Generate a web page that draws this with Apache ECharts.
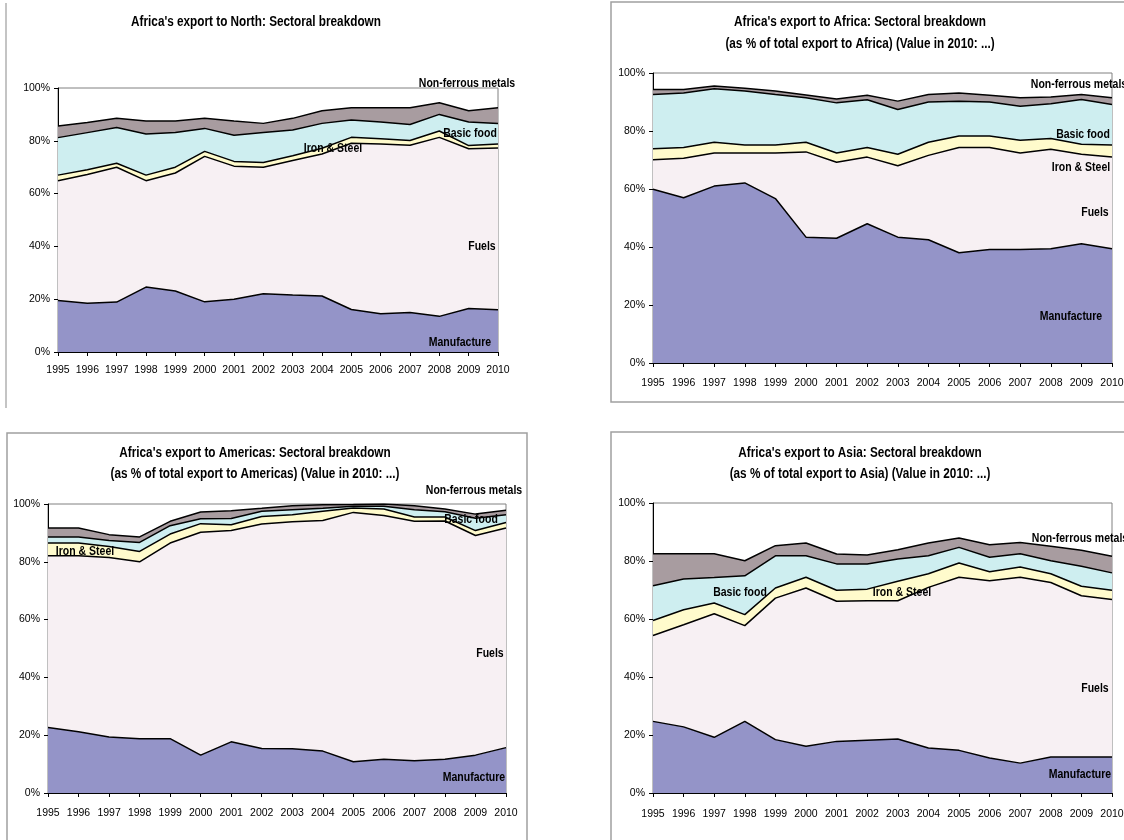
<!DOCTYPE html>
<html>
<head>
<meta charset="utf-8">
<title>Africa's export: Sectoral breakdown</title>
<script src="https://cdn.jsdelivr.net/npm/echarts@6/dist/echarts.min.js"></script>
<style>
html, body { margin: 0; padding: 0; background: #fff; }
#main { width: 1124px; height: 840px; }
</style>
</head>
<body>
<div id="main"></div>
<script>
const years = ['1995', '1996', '1997', '1998', '1999', '2000', '2001', '2002',
  '2003', '2004', '2005', '2006', '2007', '2008', '2009', '2010']
const sectors = ['Manufacture', 'Fuels', 'Iron & Steel', 'Basic food', 'Non-ferrous metals']
const yTicks = [0, 20, 40, 60, 80, 100]

// export to North (% of total)
const northManufacture = [19.5, 18.5, 18.9, 24.6, 23.1, 19.0, 20.0, 22.1, 21.6, 21.2, 16.1, 14.5, 15.0, 13.5, 16.5, 16.0]
const northFuels = [45.4, 48.7, 51.1, 40.3, 44.7, 55.1, 50.4, 47.9, 50.9, 53.8, 63.0, 64.3, 63.3, 67.8, 60.5, 61.3]
const northIron = [2.1, 1.8, 1.5, 2.1, 2.2, 1.9, 1.8, 1.8, 1.8, 2.2, 2.2, 2.0, 1.8, 2.4, 1.2, 1.5]
const northFood = [14.2, 14.1, 13.5, 15.6, 13.1, 8.7, 9.9, 11.3, 9.8, 9.4, 6.6, 6.3, 6.1, 6.3, 8.9, 7.8]
const northMetals = [4.4, 3.8, 3.5, 4.9, 4.4, 3.8, 5.4, 3.5, 4.4, 4.8, 4.6, 5.4, 6.3, 4.4, 4.3, 5.9]

// export to Africa
const africaManufacture = [59.9, 57.0, 61.0, 62.1, 56.7, 43.4, 43.0, 48.0, 43.4, 42.5, 38.0, 39.1, 39.1, 39.4, 41.1, 39.4]
const africaFuels = [10.2, 13.6, 11.4, 10.3, 15.7, 29.4, 26.2, 23.0, 24.6, 29.1, 36.3, 35.2, 33.3, 34.3, 30.9, 31.6]
const africaIron = [3.8, 3.7, 3.7, 2.8, 2.8, 3.3, 3.2, 3.3, 4.0, 4.5, 4.0, 4.0, 4.4, 3.7, 3.4, 4.2]
const africaFood = [18.7, 18.8, 18.5, 18.6, 17.4, 15.4, 17.3, 16.5, 15.4, 13.9, 12.0, 11.7, 11.7, 12.0, 15.5, 13.9]
const africaMetals = [1.7, 1.2, 0.9, 0.9, 1.2, 0.9, 1.3, 1.5, 2.9, 2.6, 2.8, 2.3, 3.0, 2.3, 1.7, 2.4]

// export to Americas
const americasManufacture = [22.7, 21.2, 19.4, 18.8, 18.8, 13.1, 17.7, 15.4, 15.3, 14.5, 10.8, 11.7, 11.2, 11.7, 13.1, 15.7]
const americasFuels = [59.4, 60.9, 62.1, 61.2, 67.7, 77.1, 73.1, 77.7, 78.6, 79.8, 86.3, 84.3, 82.8, 82.4, 76.0, 76.0]
const americasIron = [4.4, 4.4, 3.8, 3.6, 3.1, 3.0, 2.0, 2.6, 2.4, 3.2, 1.5, 2.3, 1.5, 1.4, 1.7, 1.9]
const americasFood = [2.1, 2.1, 2.1, 3.1, 2.9, 1.7, 2.2, 1.8, 1.7, 1.0, 0.6, 0.9, 2.5, 1.8, 4.3, 2.7]
const americasMetals = [3.1, 3.1, 2.0, 1.9, 1.5, 2.3, 2.7, 1.0, 1.4, 1.2, 0.6, 0.8, 1.4, 1.0, 1.4, 1.5]

// export to Asia
const asiaManufacture = [24.7, 22.8, 19.2, 24.7, 18.4, 16.1, 17.8, 18.2, 18.6, 15.5, 14.7, 12.1, 10.3, 12.4, 12.4, 12.4]
const asiaFuels = [29.6, 35.2, 42.6, 33.0, 48.8, 54.6, 48.3, 48.1, 47.7, 55.4, 59.7, 61.1, 64.1, 60.2, 55.6, 54.3]
const asiaIron = [5.2, 5.2, 3.7, 3.8, 3.5, 3.7, 3.8, 4.0, 6.7, 4.7, 4.9, 3.1, 3.5, 3.0, 3.3, 3.2]
const asiaFood = [12.0, 10.6, 8.8, 13.4, 11.1, 7.4, 9.1, 8.7, 7.7, 6.2, 5.4, 5.0, 4.6, 4.5, 6.9, 6.0]
const asiaMetals = [11.0, 8.7, 8.2, 5.2, 3.5, 4.4, 3.4, 3.1, 3.2, 4.4, 3.2, 4.3, 3.9, 5.0, 5.5, 5.7]

const FONT = '"Liberation Sans", Arial, sans-serif'
const colors = ['#9494c8', '#f7f0f3', '#fffbcc', '#ceeef0', '#a89ca0']
// the original uses a narrow face; squeeze the text horizontally instead
const NARROW = 0.84

// layout of the four panels, label spots are in sector order
const panels = [
  {
    grid: { left: 58, top: 88, width: 440, height: 264 }, margin: 13,
    series: [northManufacture, northFuels, northIron, northFood, northMetals],
    titles: [["Africa's export to North: Sectoral breakdown", 256, 22]],
    tags: [[460, 343], [482, 247], [333, 149], [470, 134], [467, 84]]
  },
  {
    grid: { left: 653, top: 73, width: 459, height: 290 }, margin: 15,
    series: [africaManufacture, africaFuels, africaIron, africaFood, africaMetals],
    titles: [["Africa's export to Africa: Sectoral breakdown", 860, 22],
      ['(as % of total export to Africa) (Value in 2010: ...)', 860, 44]],
    tags: [[1071, 317], [1095, 213], [1081, 168], [1083, 135], [1079, 85]]
  },
  {
    grid: { left: 48, top: 504, width: 458, height: 289 }, margin: 15,
    series: [americasManufacture, americasFuels, americasIron, americasFood, americasMetals],
    titles: [["Africa's export to Americas: Sectoral breakdown", 255, 453],
      ['(as % of total export to Americas) (Value in 2010: ...)', 255, 474]],
    tags: [[474, 778], [490, 654], [85, 552], [471, 520], [474, 491]]
  },
  {
    grid: { left: 653, top: 503, width: 459, height: 290 }, margin: 16,
    series: [asiaManufacture, asiaFuels, asiaIron, asiaFood, asiaMetals],
    titles: [["Africa's export to Asia: Sectoral breakdown", 860, 453],
      ['(as % of total export to Asia) (Value in 2010: ...)', 860, 474]],
    tags: [[1080, 775], [1095, 689], [902, 593], [740, 593], [1080, 539]]
  }
]

const chart = echarts.init(document.getElementById('main'), null, { renderer: 'canvas' })

const grids = []
const xAxes = []
const yAxes = []
const series = []
const graphics = []

// frames around the panels (the first one only shows its left edge)
graphics.push({ type: 'line', shape: { x1: 6, y1: 3, x2: 6, y2: 408 }, style: { stroke: '#b0b0b0', lineWidth: 1.5 } })
graphics.push({ type: 'rect', shape: { x: 611, y: 2, width: 530, height: 400 }, style: { fill: null, stroke: '#a0a0a0', lineWidth: 1.5 } })
graphics.push({ type: 'rect', shape: { x: 7, y: 433, width: 520, height: 420 }, style: { fill: null, stroke: '#a0a0a0', lineWidth: 1.5 } })
graphics.push({ type: 'rect', shape: { x: 611, y: 432, width: 530, height: 420 }, style: { fill: null, stroke: '#a0a0a0', lineWidth: 1.5 } })

function narrowText(text, x, y, size) {
  return {
    type: 'text', x, y, z: 100, scaleX: NARROW,
    style: { text, fill: '#000', font: 'bold ' + size + 'px ' + FONT, align: 'center', verticalAlign: 'middle' }
  }
}

panels.forEach((p, i) => {
  grids.push({
    ...p.grid,
    show: true,
    backgroundColor: '#fff',
    borderColor: '#808080',
    borderWidth: 1,
    containLabel: false,
    outerBoundsMode: 'none'
  })
  xAxes.push({
    type: 'category',
    gridIndex: i,
    data: years,
    boundaryGap: false,
    axisLine: { lineStyle: { color: '#000', width: 1 } },
    axisTick: { show: true, length: 4, interval: 0, lineStyle: { color: '#000' } },
    axisLabel: { interval: 0, margin: p.margin, color: '#000', fontSize: 10.5, fontFamily: FONT },
    splitLine: { show: false }
  })
  yAxes.push({
    type: 'value',
    gridIndex: i,
    min: yTicks[0],
    max: yTicks[yTicks.length - 1],
    interval: 20,
    axisLine: { show: true, lineStyle: { color: '#000', width: 1 } },
    axisTick: { show: true, length: 4, lineStyle: { color: '#000' } },
    axisLabel: { formatter: '{value}%', margin: 8, color: '#000', fontSize: 10.5, fontFamily: FONT },
    splitLine: { show: false }
  })
  p.series.forEach((vals, k) => {
    series.push({
      name: sectors[k],
      type: 'line',
      xAxisIndex: i,
      yAxisIndex: i,
      stack: 'panel' + i,
      data: vals,
      symbol: 'none',
      silent: true,
      animation: false,
      lineStyle: { color: '#000', width: 1.5 },
      areaStyle: { color: colors[k], opacity: 1 }
    })
  })
  p.titles.forEach(([text, x, y]) => graphics.push(narrowText(text, x, y, 14)))
  p.tags.forEach(([x, y], k) => graphics.push(narrowText(sectors[k], x, y, 12.5)))
})

chart.setOption({
  backgroundColor: '#fff',
  animation: false,
  grid: grids,
  xAxis: xAxes,
  yAxis: yAxes,
  series,
  graphic: { elements: graphics }
})
</script>
</body>
</html>
